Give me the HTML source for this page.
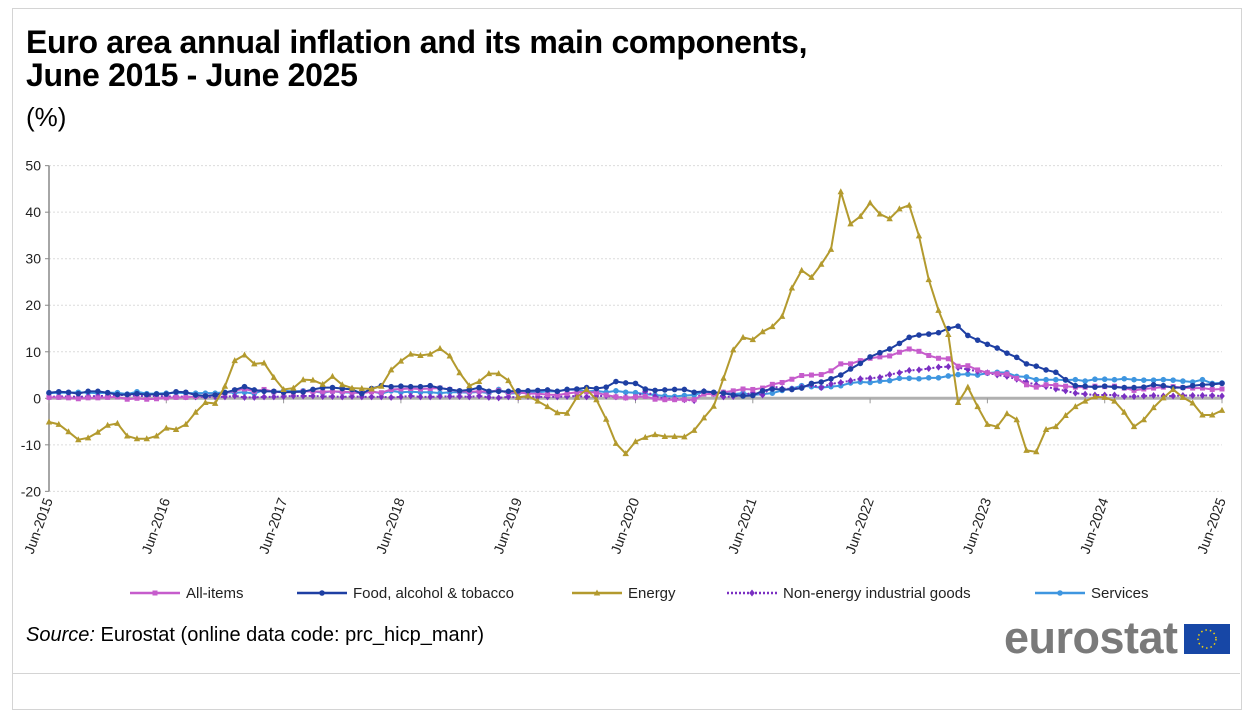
<!DOCTYPE html>
<html><head><meta charset="utf-8">
<style>
body{margin:0;background:#fff;width:1244px;height:687px;overflow:hidden;font-family:"Liberation Sans",sans-serif;}
#frame{position:absolute;left:12px;top:8px;width:1228px;height:700px;border:1px solid #d4d4d4;}
#hr{position:absolute;left:12px;top:673px;width:1228px;height:1px;background:#d4d4d4;}
#title{position:absolute;left:26px;top:26px;font-size:32px;font-weight:bold;line-height:33px;color:#000;letter-spacing:-0.3px;}
#unit{position:absolute;left:26px;top:102px;font-size:26px;color:#000;}
#source{position:absolute;left:26px;top:624px;font-size:20px;color:#000;}
#logo{position:absolute;left:1004px;top:612px;font-size:45px;font-weight:bold;color:#7a7a7a;letter-spacing:-0.5px;}
#flag{position:absolute;left:1184px;top:624px;width:46px;height:30px;background:#1747a6;}
svg{position:absolute;left:0;top:0;}
</style></head><body>
<div id="frame"></div>
<div id="hr"></div>
<div id="title">Euro area annual inflation and its main components,<br>June 2015 - June 2025</div>
<div id="unit">(%)</div>
<div id="source"><i>Source:</i> Eurostat (online data code: prc_hicp_manr)</div>
<div id="logo">eurostat</div>
<div id="flag"><svg width="46" height="30"><circle cx="23" cy="15" r="9" fill="none" stroke="#f5d40a" stroke-width="1.5" stroke-dasharray="1.5 3"/></svg></div>
<svg id="chart" width="1244" height="687"></svg>
<script>
const yTicks=[50,40,30,20,10,0,-10,-20];
const xLabels=["Jun-2015","Jun-2016","Jun-2017","Jun-2018","Jun-2019","Jun-2020","Jun-2021","Jun-2022","Jun-2023","Jun-2024","Jun-2025"];
const allItems=[0.2,0.2,0.1,-0.1,0.1,0.1,0.2,
0.3,-0.2,0.0,-0.2,-0.1,0.1,0.2,0.2,0.4,0.5,0.6,1.1,
1.7,2.0,1.5,1.9,1.4,1.3,1.3,1.5,1.5,1.4,1.5,1.4,
1.3,1.1,1.4,1.2,1.9,2.0,2.1,2.0,2.1,2.2,1.9,1.5,
1.4,1.5,1.4,1.7,1.2,1.3,1.0,1.0,0.8,0.7,1.0,1.3,
1.4,1.2,0.7,0.3,0.1,0.3,0.4,-0.2,-0.3,-0.3,-0.3,-0.3,
0.9,0.9,1.3,1.6,2.0,1.9,2.2,3.0,3.4,4.1,4.9,5.0,
5.1,5.9,7.4,7.4,8.1,8.6,8.9,9.1,9.9,10.6,10.1,9.2,
8.6,8.5,6.9,7.0,6.1,5.5,5.3,5.2,4.3,2.9,2.4,2.9,
2.8,2.6,2.4,2.4,2.6,2.5,2.6,2.2,1.7,2.0,2.2,2.4,
2.5,2.3,2.2,2.2,1.9,2.0];
const food=[1.2,1.4,1.3,1.0,1.5,1.5,1.2,
0.8,0.8,1.0,0.8,0.9,0.9,1.4,1.3,0.7,0.5,0.7,1.2,
1.8,2.5,1.8,1.5,1.5,1.3,1.4,1.4,1.9,2.3,2.3,2.1,
1.9,1.0,2.1,2.7,2.5,2.6,2.5,2.5,2.7,2.2,1.9,1.6,
1.8,2.3,1.5,1.5,1.5,1.6,1.6,1.7,1.8,1.5,1.9,2.0,
2.3,2.1,2.4,3.6,3.3,3.2,2.0,1.7,1.8,1.9,1.9,1.3,
1.5,1.3,1.1,0.7,0.5,0.6,1.6,2.0,1.9,1.9,2.2,3.2,
3.5,4.2,5.0,6.3,7.5,8.9,9.8,10.6,11.8,13.1,13.6,13.8,
14.1,15.0,15.5,13.5,12.5,11.6,10.8,9.7,8.8,7.4,6.9,6.1,
5.6,4.0,2.7,2.6,2.4,2.6,2.4,2.3,2.3,2.4,2.9,2.7,
2.3,2.3,2.7,2.9,3.0,3.2];
const energy=[-5.1,-5.6,-7.2,-8.9,-8.5,-7.3,-5.8,
-5.4,-8.1,-8.7,-8.7,-8.1,-6.4,-6.7,-5.6,-3.0,-0.9,-1.1,2.6,
8.1,9.3,7.4,7.6,4.5,1.9,2.2,4.0,3.9,3.0,4.7,2.9,
2.2,2.1,2.0,2.6,6.1,8.0,9.5,9.2,9.5,10.7,9.1,5.5,
2.7,3.6,5.3,5.3,3.8,0.2,0.5,-0.6,-1.8,-3.1,-3.2,0.2,
1.9,-0.3,-4.5,-9.7,-11.9,-9.3,-8.4,-7.8,-8.2,-8.2,-8.3,-6.9,
-4.2,-1.7,4.3,10.4,13.1,12.6,14.3,15.4,17.6,23.7,27.5,26.0,
28.8,32.0,44.4,37.5,39.1,42.0,39.6,38.6,40.7,41.5,34.9,25.5,
18.9,13.7,-0.9,2.4,-1.8,-5.6,-6.1,-3.3,-4.6,-11.2,-11.5,-6.7,
-6.1,-3.7,-1.8,-0.6,0.3,0.2,-0.6,-3.0,-6.1,-4.6,-2.0,0.1,
1.9,0.2,-1.0,-3.6,-3.6,-2.6];
const neig=[0.3,0.4,0.4,0.3,0.4,0.5,0.5,
0.7,0.7,0.5,0.5,0.5,0.4,0.4,0.3,0.3,0.3,0.3,0.3,
0.5,0.2,0.2,0.3,0.3,0.4,0.5,0.5,0.5,0.4,0.4,0.3,
0.4,0.3,0.3,0.3,0.2,0.3,0.5,0.3,0.3,0.4,0.4,0.4,
0.3,0.5,0.2,0.1,0.3,0.2,0.4,0.3,0.3,0.3,0.4,0.5,
0.3,0.5,0.5,0.3,0.2,0.2,1.6,0.4,-0.1,-0.1,-0.3,-0.5,
1.5,1.0,0.3,0.4,0.7,1.2,0.7,2.6,2.1,2.0,2.4,2.9,
2.3,3.1,3.4,3.8,4.2,4.3,4.5,5.1,5.5,6.0,6.1,6.4,
6.7,6.8,6.6,6.2,5.8,5.5,5.0,4.7,4.1,3.5,2.9,2.5,
2.0,1.6,1.1,0.9,0.7,0.7,0.7,0.4,0.4,0.5,0.6,0.5,
0.5,0.6,0.6,0.6,0.6,0.5];
const services=[1.1,1.2,1.2,1.3,1.2,1.1,1.2,
1.2,0.9,1.4,1.0,1.0,1.1,1.2,1.1,1.1,1.1,1.1,1.3,
1.2,1.3,1.0,1.8,1.3,1.6,1.5,1.6,1.5,1.2,1.5,1.3,
1.2,1.2,1.5,1.0,1.6,1.3,1.4,1.3,1.3,1.1,1.3,1.3,
1.2,1.4,1.1,1.9,1.0,1.1,1.2,1.3,1.5,1.5,1.9,1.8,
1.5,1.6,1.3,1.6,1.3,1.2,0.9,0.7,0.5,0.4,0.6,0.7,
1.4,1.2,1.3,0.9,1.1,0.7,0.9,1.1,1.7,2.1,2.7,2.5,
2.3,2.5,2.7,3.3,3.5,3.4,3.7,3.8,4.3,4.3,4.2,4.4,
4.4,4.8,5.1,5.2,5.0,5.4,5.6,5.5,4.7,4.6,4.0,4.0,
4.0,3.9,4.0,3.7,4.1,4.1,4.0,4.2,4.0,3.9,3.9,4.0,
3.9,3.7,3.5,4.0,3.2,3.3];
const seriesNames=["All-items","Food, alcohol & tobacco","Energy","Non-energy industrial goods","Services"];

const NS="http://www.w3.org/2000/svg";
const svg=document.getElementById('chart');
const X0=49,X1=1222,Y0=398.3,PX=(491.7-166)/70;
const xs=i=>X0+(X1-X0)*i/120;
const ys=v=>Y0-v*PX;
function mk(t,a,p){const e=document.createElementNS(NS,t);for(const k in a)e.setAttribute(k,a[k]);(p||svg).appendChild(e);return e;}

yTicks.forEach(v=>{
  const g=mk('line',{x1:X0,x2:X1,y1:ys(v),y2:ys(v),stroke:v===0?'#b0b0b0':'#dcdcdc','stroke-width':v===0?3:1,'stroke-dasharray':v===0?'':'2 2'});
  
  
  const t=mk('text',{x:X0-8,y:ys(v)+5,'text-anchor':'end','font-size':14,fill:'#222','font-family':'Liberation Sans, sans-serif'});
  t.textContent=v;
  
  
  mk('line',{x1:X0-4,x2:X0,y1:ys(v),y2:ys(v),stroke:'#888'});
});
const ax=mk('line',{x1:X0,x2:X0,y1:ys(50),y2:ys(-20),stroke:'#888','stroke-width':1.5});


xLabels.forEach((l,k)=>{
  const x=xs(k*12);
  mk('line',{x1:x,x2:x,y1:Y0,y2:Y0+5,stroke:'#999'});
  const t=mk('text',{x:0,y:0,'text-anchor':'end','font-size':14,fill:'#222','font-family':'Liberation Sans, sans-serif',transform:`translate(${x+4},${500}) rotate(-70)`});
  t.textContent=l;
  
  
});

function marker(type,x,y,c,g){
  if(type==='sq')return mk('rect',{x:x-2.5,y:y-2.5,width:5,height:5,fill:c},g);
  if(type==='ci')return mk('circle',{cx:x,cy:y,r:2.8,fill:c},g);
  if(type==='tr')return mk('path',{d:`M${x} ${y-3.5}L${x+3.2} ${y+2.5}L${x-3.2} ${y+2.5}Z`,fill:c},g);
  if(type==='di')return mk('path',{d:`M${x} ${y-3.5}L${x+2.8} ${y}L${x} ${y+3.5}L${x-2.8} ${y}Z`,fill:c},g);
}
const defs=[
 [services,'#3e96e0','ci','','services'],
 [neig,'#7a2fc2','di','2 2','non-energy-industrial-goods'],
 [allItems,'#c65ccc','sq','','all-items'],
 [food,'#1e3fa3','ci','','food-alcohol-tobacco'],
 [energy,'#b39a2e','tr','','energy'],
];
defs.forEach(([d,c,m,da,n])=>{
  const g=mk('g',{});
  
  
  mk('polyline',{points:d.map((v,i)=>xs(i)+','+ys(v)).join(' '),fill:'none',stroke:c,'stroke-width':2,'stroke-dasharray':da},g);
  d.forEach((v,i)=>{marker(m,xs(i),ys(v),c,g);});
});

const leg=[['#c65ccc','sq','',130,'All-items'],['#1e3fa3','ci','',297,'Food, alcohol & tobacco'],['#b39a2e','tr','',572,'Energy'],['#7a2fc2','di','2 2',727,'Non-energy industrial goods'],['#3e96e0','ci','',1035,'Services']];
leg.forEach(([c,m,da,x,l])=>{
  const g=mk('g',{});
  
  
  mk('line',{x1:x,x2:x+50,y1:593,y2:593,stroke:c,'stroke-width':2.5,'stroke-dasharray':da},g);
  marker(m,x+25,593,c,g);
  const t=mk('text',{x:x+56,y:598,'font-size':15,fill:'#222','font-family':'Liberation Sans, sans-serif'},g);
  t.textContent=l;
});
</script>
</body></html>
